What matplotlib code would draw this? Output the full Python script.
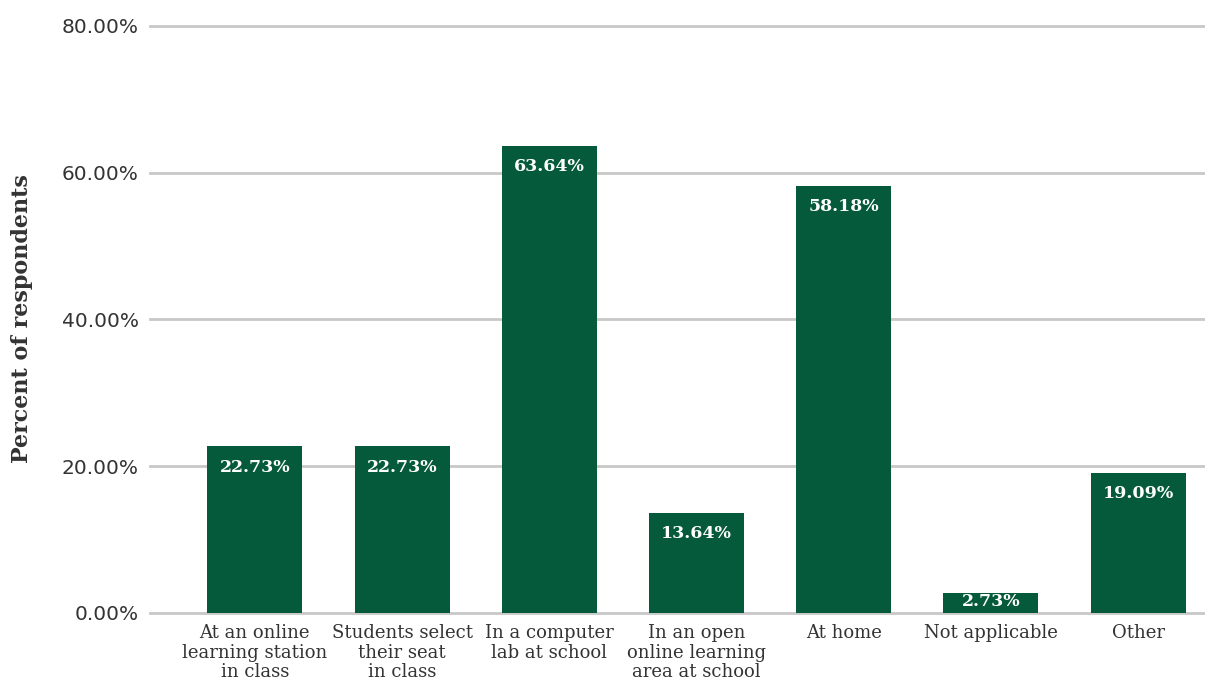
import numpy as np
import matplotlib.pyplot as plt

categories = ["At an online\nlearning station\nin class", "Students select\ntheir seat\nin class",
              "In a computer\nlab at school", "In an open\nonline learning\narea at school",
              "At home", "Not applicable", "Other"]
values = [22.73, 22.73, 63.64, 13.64, 58.18, 2.73, 19.09]

green = "#065a3c"

fig = plt.figure(figsize=(12.05, 6.83), dpi=100)
ax = fig.add_axes([0.1245, 0.1025, 0.8755, 0.8595])

x = np.arange(len(values))
ax.bar(x, values, width=0.645, color=green, zorder=3)

# labels sit just under the bar top, kept inside short bars
for xi, v in zip(x, values):
    ax.text(xi, max(v - 2.85, 1.5), f"{v:.2f}%", ha="center", va="center", color="white",
            fontsize=12.5, fontweight="bold", family="DejaVu Serif", zorder=4)

ax.set_ylim(0, 80)
ax.set_xlim(-0.712, 6.454)
ax.set_yticks([0, 20, 40, 60, 80])
ax.set_yticklabels([f"{t:.2f}%" for t in [0, 20, 40, 60, 80]], fontsize=14.5,
                   family="DejaVu Sans", color="#333333")
ax.yaxis.grid(True, color="#c8c8c8", linewidth=2, zorder=0)
for gl in ax.get_ygridlines():
    gl.set_clip_on(False)
ax.set_xticks(x)
ax.set_xticklabels(categories, fontsize=13, family="DejaVu Serif", color="#333333",
                   linespacing=1.12)
ax.tick_params(axis="both", length=0)
ax.tick_params(axis="x", pad=8)
ax.tick_params(axis="y", pad=8)
for s in ax.spines.values():
    s.set_visible(False)

fig.text(0.018, 0.534, "Percent of respondents", rotation=90, ha="center", va="center",
         fontsize=16, fontweight="bold", family="DejaVu Serif", color="#333333")

fig.savefig("out.png", dpi=100)
